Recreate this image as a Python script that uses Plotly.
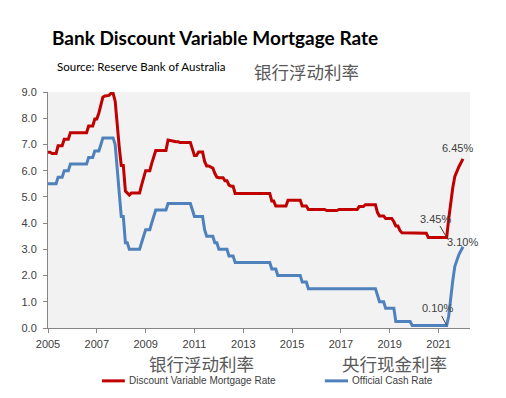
import pandas as pd
import plotly.graph_objects as go

months = pd.date_range("2005-12-01", periods=205, freq="MS")

discount_variable_rate = [
    6.70, 6.70, 6.65, 6.65, 6.65, 6.95, 6.95, 6.95, 7.20, 7.20, 7.20, 7.45,
    7.45, 7.45, 7.45, 7.45, 7.45, 7.45, 7.45, 7.45, 7.70, 7.70, 7.70, 7.97,
    7.97, 8.20, 8.50, 8.80, 8.85, 8.87, 8.87, 8.95, 8.95, 8.65, 7.60, 6.90,
    6.20, 6.20, 5.22, 5.15, 5.07, 5.15, 5.15, 5.15, 5.15, 5.15, 5.45, 5.75,
    6.00, 6.00, 6.00, 6.27, 6.52, 6.77, 6.77, 6.77, 6.77, 6.77, 6.77, 7.17,
    7.15, 7.12, 7.10, 7.10, 7.10, 7.07, 7.07, 7.07, 7.07, 7.07, 7.07, 6.82,
    6.58, 6.58, 6.71, 6.71, 6.71, 6.35, 6.18, 6.18, 6.15, 6.10, 5.90, 5.75,
    5.73, 5.73, 5.73, 5.62, 5.62, 5.45, 5.41, 5.41, 5.13, 5.13, 5.13, 5.13,
    5.13, 5.13, 5.13, 5.13, 5.13, 5.13, 5.13, 5.13, 5.13, 5.13, 5.13, 5.13,
    5.13, 5.13, 4.84, 4.84, 4.65, 4.65, 4.65, 4.65, 4.65, 4.65, 4.87, 4.87,
    4.87, 4.87, 4.87, 4.87, 4.87, 4.65, 4.65, 4.65, 4.52, 4.52, 4.52, 4.52,
    4.52, 4.52, 4.52, 4.52, 4.52, 4.48, 4.48, 4.48, 4.48, 4.48, 4.48, 4.52,
    4.52, 4.52, 4.52, 4.52, 4.52, 4.52, 4.52, 4.52, 4.52, 4.63, 4.63, 4.63,
    4.70, 4.70, 4.70, 4.70, 4.70, 4.70, 4.40, 4.27, 4.27, 4.27, 4.18, 4.18,
    4.18, 4.18, 4.05, 3.89, 3.89, 3.72, 3.63, 3.63, 3.63, 3.63, 3.63, 3.63,
    3.63, 3.63, 3.63, 3.61, 3.61, 3.61, 3.61, 3.45, 3.45, 3.45, 3.45, 3.45,
    3.45, 3.45, 3.45, 3.45, 3.45, 4.15, 4.80, 5.35, 5.78, 6.00, 6.15, 6.30,
    6.45,
]

official_cash_rate = [
    5.50, 5.50, 5.50, 5.50, 5.50, 5.75, 5.75, 5.75, 6.00, 6.00, 6.00, 6.25,
    6.25, 6.25, 6.25, 6.25, 6.25, 6.25, 6.25, 6.25, 6.50, 6.50, 6.50, 6.75,
    6.75, 6.75, 7.00, 7.25, 7.25, 7.25, 7.25, 7.25, 7.25, 7.00, 6.00, 5.25,
    4.25, 4.25, 3.25, 3.25, 3.00, 3.00, 3.00, 3.00, 3.00, 3.00, 3.25, 3.50,
    3.75, 3.75, 3.75, 4.00, 4.25, 4.50, 4.50, 4.50, 4.50, 4.50, 4.50, 4.75,
    4.75, 4.75, 4.75, 4.75, 4.75, 4.75, 4.75, 4.75, 4.75, 4.75, 4.75, 4.50,
    4.25, 4.25, 4.25, 4.25, 4.25, 3.75, 3.50, 3.50, 3.50, 3.50, 3.25, 3.25,
    3.00, 3.00, 3.00, 3.00, 3.00, 2.75, 2.75, 2.75, 2.50, 2.50, 2.50, 2.50,
    2.50, 2.50, 2.50, 2.50, 2.50, 2.50, 2.50, 2.50, 2.50, 2.50, 2.50, 2.50,
    2.50, 2.50, 2.25, 2.25, 2.25, 2.00, 2.00, 2.00, 2.00, 2.00, 2.00, 2.00,
    2.00, 2.00, 2.00, 2.00, 2.00, 1.75, 1.75, 1.75, 1.50, 1.50, 1.50, 1.50,
    1.50, 1.50, 1.50, 1.50, 1.50, 1.50, 1.50, 1.50, 1.50, 1.50, 1.50, 1.50,
    1.50, 1.50, 1.50, 1.50, 1.50, 1.50, 1.50, 1.50, 1.50, 1.50, 1.50, 1.50,
    1.50, 1.50, 1.50, 1.50, 1.50, 1.50, 1.25, 1.00, 1.00, 1.00, 0.75, 0.75,
    0.75, 0.75, 0.75, 0.25, 0.25, 0.25, 0.25, 0.25, 0.25, 0.25, 0.25, 0.10,
    0.10, 0.10, 0.10, 0.10, 0.10, 0.10, 0.10, 0.10, 0.10, 0.10, 0.10, 0.10,
    0.10, 0.10, 0.10, 0.10, 0.10, 0.45, 1.20, 1.80, 2.35, 2.60, 2.80, 2.95,
    3.10,
]

tick_years = ["2005", "2007", "2009", "2011", "2013", "2015", "2017", "2019", "2021"]
tick_dates = [f"{y}-12-01" for y in tick_years]
y_ticks = [0, 1, 2, 3, 4, 5, 6, 7, 8, 9]
series_names = ["Discount Variable Mortgage Rate", "Official Cash Rate"]

RED = "#C00000"
BLUE = "#4F81BD"
GREY_TXT = "#404040"
AXIS = "#868686"
LAB_FONT = "Liberation Sans, Arial, sans-serif"

fig = go.Figure()
fig.add_trace(go.Scatter(x=months, y=discount_variable_rate, mode="lines",
                         name=series_names[0], line=dict(color=RED, width=3)))
fig.add_trace(go.Scatter(x=months, y=official_cash_rate, mode="lines",
                         name=series_names[1], line=dict(color=BLUE, width=3)))

# point labels
ann_font = dict(family=LAB_FONT, size=11, color=GREY_TXT)
fig.add_annotation(x=months[-1], y=discount_variable_rate[-1], text="6.45%",
                   showarrow=False, xshift=-5, yshift=11, font=ann_font)
fig.add_annotation(x=months[-1], y=official_cash_rate[-1], text="3.10%",
                   showarrow=False, xshift=0, yshift=5, font=ann_font)
fig.add_annotation(x=months[196], y=discount_variable_rate[196], text="3.45%",
                   showarrow=True, arrowhead=0, arrowwidth=1, arrowcolor="#404040",
                   ax=-11, ay=-19, standoff=0, font=ann_font)
fig.add_annotation(x=months[196], y=official_cash_rate[196], text="0.10%",
                   showarrow=True, arrowhead=0, arrowwidth=1, arrowcolor="#404040",
                   ax=-9, ay=-17, standoff=0, font=ann_font)

# titles and Chinese captions (paper coordinates)
fig.add_annotation(xref="paper", yref="paper", x=0.004, y=1.231, xanchor="left", yanchor="middle",
                   text="<b>Bank Discount Variable Mortgage Rate</b>", showarrow=False,
                   font=dict(family="Lato, sans-serif", size=19, color="#000000"))
fig.add_annotation(xref="paper", yref="paper", x=0.016, y=1.108, xanchor="left", yanchor="middle",
                   text="Source: Reserve Bank of Australia", showarrow=False,
                   font=dict(family="Lato, sans-serif", size=11.5, color="#000000"))
cjk = dict(family="Noto Sans CJK SC", size=17.5, color="#595959")
fig.add_annotation(xref="paper", yref="paper", x=0.483, y=1.087, xanchor="left", yanchor="middle",
                   text="银行浮动利率", showarrow=False, font=cjk)
fig.add_annotation(xref="paper", yref="paper", x=0.234, y=-0.149, xanchor="left", yanchor="middle",
                   text="银行浮动利率", showarrow=False, font=cjk)
fig.add_annotation(xref="paper", yref="paper", x=0.691, y=-0.149, xanchor="left", yanchor="middle",
                   text="央行现金利率", showarrow=False, font=cjk)

# legend drawn as line samples + labels below the axis
leg_y = -0.224
for (x0, x1, tx), col, name in zip([(0.128, 0.182, 0.187), (0.656, 0.711, 0.716)],
                                    [RED, BLUE], series_names):
    fig.add_shape(type="line", xref="paper", yref="paper", x0=x0, x1=x1, y0=leg_y, y1=leg_y,
                  line=dict(color=col, width=3))
    fig.add_annotation(xref="paper", yref="paper", x=tx, y=leg_y, xanchor="left", yanchor="middle",
                       text=name, showarrow=False,
                       font=dict(family=LAB_FONT, size=10, color=GREY_TXT))

# page body has an 8px margin, so the figure is sized/offset to land in the window
fig.update_layout(
    width=498, height=390,
    margin=dict(l=40, r=36, t=84, b=70, autoexpand=False),
    paper_bgcolor="white",
    plot_bgcolor="#F2F2F2",
    showlegend=False,
    xaxis=dict(range=["2005-12-01", "2023-03-16"], tickvals=tick_dates, ticktext=tick_years,
               showgrid=False, zeroline=False, showline=True, linecolor=AXIS, linewidth=1,
               ticks="outside", ticklen=4, tickcolor=AXIS, automargin=False,
               ticklabelstandoff=2,
               tickfont=dict(family=LAB_FONT, size=11, color=GREY_TXT)),
    yaxis=dict(range=[0, 9], tickvals=y_ticks, tickformat=".1f", ticksuffix="%",
               showgrid=False, zeroline=False, showline=True, linecolor=AXIS, linewidth=1,
               ticks="outside", ticklen=4, tickcolor=AXIS, automargin=False,
               ticklabelstandoff=4,
               tickfont=dict(family=LAB_FONT, size=11, color=GREY_TXT)),
)

fig.write_html("out.html")
